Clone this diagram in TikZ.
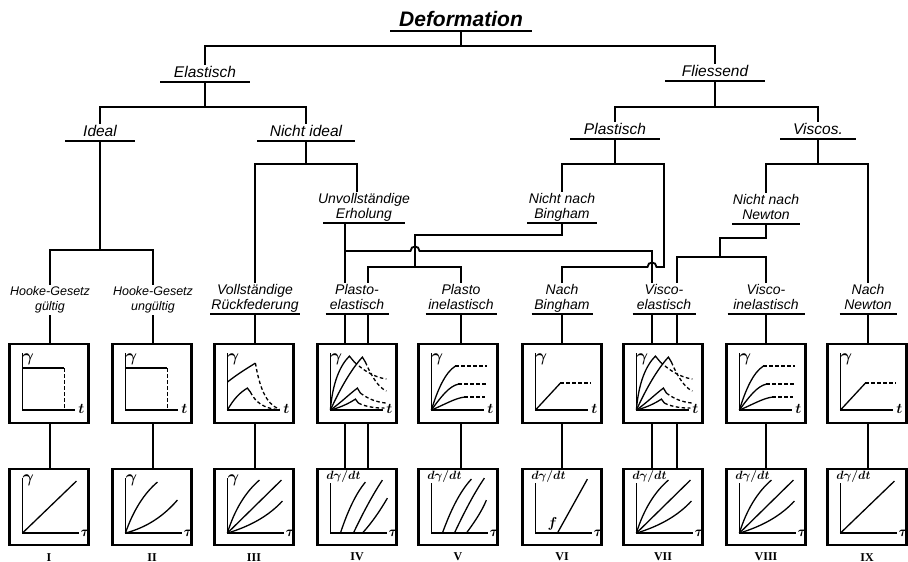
\documentclass[tikz,border=0pt]{standalone}
\usepackage{fontspec}
\setmainfont{Liberation Sans}
\newfontfamily\numfont{Liberation Serif}
\begin{document}
\begin{tikzpicture}[x=1pt, y=-1pt,
  conn/.style={line width=1.8pt},
  lbl/.style={font=\itshape\fontsize{14}{15}\selectfont, align=center,
              inner xsep=0pt, inner ysep=1pt, text depth=3.5pt, anchor=south},
  lvl/.style={font=\itshape\fontsize{15.5}{16}\selectfont},
  ttl/.style={font=\bfseries\itshape\fontsize{21}{21}\selectfont},
  hk/.style={font=\itshape\fontsize{12.5}{15}\selectfont},
  ul/.style={append after command={([xshift=-#1]\tikzlastnode.south)
             edge[line width=1.8pt] ([xshift=#1]\tikzlastnode.south)}},
  gbox/.style={draw, line width=2.2pt, minimum width=79pt, minimum height=79pt, inner sep=0pt},
  gboxb/.style={gbox, minimum height=76pt},
  ax/.style={line width=1.6pt},
  crv/.style={line width=1.3pt},
  dsh/.style={dash pattern=on 3.5pt off 2.5pt},
  gl/.style={font=\boldmath\fontsize{19}{19}\selectfont, inner sep=0pt},
  axl/.style={font=\boldmath\fontsize{15}{15}\selectfont, inner sep=0pt},
  rate/.style={font=\boldmath\fontsize{12}{12}\selectfont, inner sep=0pt},
  num/.style={font=\numfont\bfseries\fontsize{12}{12}\selectfont, inner sep=0pt},
  % axes of the strain-time diagrams
  axrow/.pic={\begin{scope}[y=1pt]
    \draw[ax] (14,71) -- (14,14) -- (67,14);
    \node[gl] (g) at (20,65) {$\gamma$};
    \node[axl] (t) at (73,15) {$t$};
  \end{scope}},
  % axes of the flow curves
  axgam/.pic={\begin{scope}[y=1pt]
    \draw[ax] (14,68) -- (14,13) -- (71,13);
    \node[gl] (g) at (20,66) {$\gamma$};
    \node[axl] (t) at (77,13) {$\tau$};
  \end{scope}},
  axrate/.pic={\begin{scope}[y=1pt]
    \draw[ax] (14,63) -- (14,13) -- (71,13);
    \node[rate] (g) at (27,70) {$d\gamma/dt$};
    \node[axl] (t) at (77,13) {$\tau$};
  \end{scope}},
  stepplot/.pic={\begin{scope}[y=1pt]
    \draw[crv] (14,56) -- (56,56);
    \draw[crv,dsh] (56,56) -- (56,14);
  \end{scope}},
  relaxplot/.pic={\begin{scope}[y=1pt]
    \draw[crv] (14,42) .. controls (24,50) and (34,56) .. (42,61);
    \draw[crv,dsh] (42,61) .. controls (46,38) and (52,20) .. (66,15);
    \draw[crv] (14,14) .. controls (20,25) and (27,32) .. (34,36) -- (37,32);
    \draw[crv,dsh] (37,32) .. controls (42,22) and (50,16) .. (64,14.5);
  \end{scope}},
  peplot/.pic={\begin{scope}[y=1pt]
    \draw[crv] (14,14) .. controls (16,40) and (23,58) .. (33,68) -- (38,62);
    \draw[crv,dsh] (38,62) .. controls (48,53) and (58,47) .. (70,45);
    \draw[crv] (14,14) .. controls (24,36) and (35,55) .. (46,67) -- (49,62);
    \draw[crv,dsh] (49,62) .. controls (56,46) and (62,37) .. (70,33);
    \draw[crv] (14,14) .. controls (25,22) and (33,30) .. (41,36) -- (44,31);
    \draw[crv,dsh] (44,31) .. controls (52,25) and (60,22) .. (70,21);
    \draw[crv] (14,14) .. controls (25,17) and (33,21) .. (39,25) -- (42,21);
    \draw[crv,dsh] (42,21) .. controls (50,17) and (60,16) .. (68,16);
  \end{scope}},
  piplot/.pic={\begin{scope}[y=1pt]
    \draw[crv] (14,14) .. controls (20,34) and (28,52) .. (38,58);
    \draw[crv,dsh] (38,58) -- (70,58);
    \draw[crv] (14,14) .. controls (24,28) and (32,38) .. (41,40);
    \draw[crv,dsh] (41,40) -- (70,40);
    \draw[crv] (14,14) .. controls (28,20) and (38,26) .. (47,27);
    \draw[crv,dsh] (47,27) -- (68,27);
  \end{scope}},
  binghamplot/.pic={\begin{scope}[y=1pt]
    \draw[crv] (14,14) -- (39,41);
    \draw[crv,dsh] (39,41) -- (70,41);
  \end{scope}},
  linplot/.pic={\begin{scope}[y=1pt]
    \draw[crv] (14,13) -- (68,65);
  \end{scope}},
  twoplot/.pic={\begin{scope}[y=1pt]
    \draw[crv] (14,13) .. controls (22,36) and (33,53) .. (46,64);
    \draw[crv] (14,13) .. controls (36,19) and (52,30) .. (66,46);
  \end{scope}},
  threeplot/.pic={\begin{scope}[y=1pt]
    \draw[crv] (14,13) .. controls (21,36) and (32,54) .. (46,66);
    \draw[crv] (14,13) -- (68,66);
    \draw[crv] (14,13) .. controls (37,20) and (55,30) .. (69,45);
  \end{scope}},
  yieldplot/.pic={\begin{scope}[y=1pt]
    \draw[crv] (24,13) .. controls (31,34) and (39,52) .. (49,64);
    \draw[crv] (37,13) .. controls (46,32) and (56,51) .. (66,66);
    \draw[crv] (46,13) .. controls (56,24) and (64,36) .. (71,48);
  \end{scope}},
  yieldplotb/.pic={\begin{scope}[y=1pt]
    \draw[crv] (25,13) .. controls (33,35) and (42,54) .. (54,67);
    \draw[crv] (37,13) .. controls (46,32) and (56,52) .. (67,68);
    \draw[crv] (49,13) .. controls (57,24) and (64,34) .. (69,46);
  \end{scope}},
  flowplot/.pic={\begin{scope}[y=1pt]
    \draw[crv] (36,13) -- (66,67);
    \node[axl] (f) at (31,22) {$f$};
  \end{scope}}
]
\useasboundingbox (0,0) rectangle (908,562);

% ---------- classification labels ----------
\node[lbl, ttl, ul=71pt] (def) at (461,31) {Deformation};
\node[lbl, lvl, ul=45pt] (ela) at (205,82) {Elastisch};
\node[lbl, lvl, ul=50pt] (fli) at (715,81) {Fliessend};
\node[lbl, lvl, ul=35pt] (ide) at (100,141) {Ideal};
\node[lbl, lvl, ul=49pt] (nid) at (306,141) {Nicht ideal};
\node[lbl, lvl, ul=45pt] (pla) at (615,139) {Plastisch};
\node[lbl, lvl, ul=38pt] (vis) at (818,139) {Viscos.};
\node[lbl, ul=41pt] (ue) at (364,223) {Unvollständige\\Erholung};
\node[lbl, ul=35pt] (nnb) at (562,223) {Nicht nach\\Bingham};
\node[lbl, ul=34pt] (nnn) at (766,224) {Nicht nach\\Newton};
\node[lbl, hk] (hg) at (50,315) {Hooke-Gesetz\\gültig};
\node[lbl, hk] (hu) at (153,315) {Hooke-Gesetz\\ungültig};
\node[lbl, ul=45pt] (vr) at (255,314) {Vollständige\\Rückfederung};
\node[lbl, ul=31.5pt] (pe) at (357,314) {Plasto-\\elastisch};
\node[lbl, ul=35.5pt] (pi) at (461,314) {Plasto\\inelastisch};
\node[lbl, ul=30.5pt] (nb) at (562,314) {Nach\\Bingham};
\node[lbl, ul=31.5pt] (ve) at (664,314) {Visco-\\elastisch};
\node[lbl, ul=38.5pt] (vi) at (766,314) {Visco-\\inelastisch};
\node[lbl, ul=28.5pt] (nn) at (868,314) {Nach\\Newton};

% ---------- diagram boxes ----------
\foreach \i/\x in {1/49, 2/152, 3/254, 4/357, 5/458, 6/562, 7/663, 8/766, 9/867} {
  \node[gbox] (b\i) at (\x,383.5) {};
  \node[gboxb] (c\i) at (\x,507) {};
}
\node[num] (r1) at ([yshift=-11pt]c1.south) {I};
\node[num] (r2) at ([yshift=-11pt]c2.south) {II};
\node[num] (r3) at ([yshift=-11pt]c3.south) {III};
\node[num] (r4) at ([yshift=-11pt]c4.south) {IV};
\node[num] (r5) at ([yshift=-11pt]c5.south) {V};
\node[num] (r6) at ([yshift=-11pt]c6.south) {VI};
\node[num] (r7) at ([yshift=-11pt]c7.south) {VII};
\node[num] (r8) at ([yshift=-11pt]c8.south) {VIII};
\node[num] (r9) at ([yshift=-11pt]c9.south) {IX};

% strain-time diagrams
\foreach \i in {1,...,9} { \pic (a\i) at (b\i.south west) {axrow}; }
\pic at (b1.south west) {stepplot};
\pic at (b2.south west) {stepplot};
\pic at (b3.south west) {relaxplot};
\pic at (b4.south west) {peplot};
\pic at (b5.south west) {piplot};
\pic at (b6.south west) {binghamplot};
\pic at (b7.south west) {peplot};
\pic at (b8.south west) {piplot};
\pic at (b9.south west) {binghamplot};

% flow curves
\pic (d1) at (c1.south west) {axgam};
\pic (d2) at (c2.south west) {axgam};
\pic (d3) at (c3.south west) {axgam};
\foreach \i in {4,...,9} { \pic (d\i) at (c\i.south west) {axrate}; }
\pic at (c1.south west) {linplot};
\pic at (c2.south west) {twoplot};
\pic at (c3.south west) {threeplot};
\pic at (c4.south west) {yieldplot};
\pic at (c5.south west) {yieldplotb};
\pic (fl) at (c6.south west) {flowplot};
\pic at (c7.south west) {threeplot};
\pic at (c8.south west) {threeplot};
\pic at (c9.south west) {linplot};

% ---------- connector columns ----------
\coordinate (xA) at (345,0);
\coordinate (xB) at (368,0);
\coordinate (xC) at (652,0);
\coordinate (xD) at (677,0);
\coordinate (xE) at (357,0);
\coordinate (xF) at (415,0);
\coordinate (xG) at (664,0);
\coordinate (xH) at (720,0);
\coordinate (hopA) at (xF |- 0,251);
\coordinate (hopB) at (xC |- 0,267);

% ---------- tree connectors ----------
\draw[conn] (def.south) -- (def.south |- 0,46);
\draw[conn] (ela.north) |- (fli.north |- 0,46) -- (fli.north);
\draw[conn] (ela.south) -- (ela.south |- 0,107);
\draw[conn] (ide.north) |- (nid.north |- 0,107) -- (nid.north);
\draw[conn] (fli.south) -- (fli.south |- 0,107);
\draw[conn] (pla.north) |- (vis.north |- 0,107) -- (vis.north);
\draw[conn] (ide.south) -- (ide.south |- 0,250);
\draw[conn] (hg.north) |- (hu.north |- 0,250) -- (hu.north);
\draw[conn] (nid.south) -- (nid.south |- 0,164);
\draw[conn] (vr.north) |- (xE |- 0,164) -- (ue.north -| xE);
\draw[conn] (ue.south -| xA) -- (pe.north -| xA);
\draw[conn] (xA |- hopA) -- ([xshift=-4.5pt]hopA)
  .. controls +(0,-6) and +(0,-6) .. ([xshift=4.5pt]hopA) -| (ve.north -| xC);
\draw[conn] (pla.south) -- (pla.south |- 0,164);
\draw[conn] (nnb.north) |- (xG |- 0,164) -- (xG |- hopB) -- ([xshift=4.5pt]hopB)
  .. controls +(0,-6) and +(0,-6) .. ([xshift=-4.5pt]hopB) -| (nb.north);
\draw[conn] (nnb.south) |- (xF |- 0,235) -- (xF |- hopB);
\draw[conn] (pe.north -| xB) |- (pi.north |- hopB) -- (pi.north);
\draw[conn] (vis.south) -- (vis.south |- 0,164);
\draw[conn] (nnn.north) |- (nn.north |- 0,164) -- (nn.north);
\draw[conn] (nnn.south) |- (xH |- 0,238) -- (xH |- 0,257);
\draw[conn] (ve.north -| xD) |- (vi.north |- 0,257) -- (vi.north);

% ---------- labels to diagrams ----------
\draw[conn] (hg.south) -- (hg.south |- b1.north);
\draw[conn] (hu.south) -- (hu.south |- b2.north);
\draw[conn] (vr.south) -- (vr.south |- b3.north);
\draw[conn] (pe.south -| xA) -- (b4.north -| xA);
\draw[conn] (pe.south -| xB) -- (b4.north -| xB);
\draw[conn] (pi.south) -- (pi.south |- b5.north);
\draw[conn] (nb.south) -- (nb.south |- b6.north);
\draw[conn] (ve.south -| xC) -- (b7.north -| xC);
\draw[conn] (ve.south -| xD) -- (b7.north -| xD);
\draw[conn] (vi.south) -- (vi.south |- b8.north);
\draw[conn] (nn.south) -- (nn.south |- b9.north);

% ---------- strain-time to flow curves ----------
\draw[conn] (b1.south -| hg.south) -- (c1.north -| hg.south);
\draw[conn] (b2.south -| hu.south) -- (c2.north -| hu.south);
\draw[conn] (b3.south -| vr.south) -- (c3.north -| vr.south);
\draw[conn] (b4.south -| xA) -- (c4.north -| xA);
\draw[conn] (b4.south -| xB) -- (c4.north -| xB);
\draw[conn] (b5.south -| pi.south) -- (c5.north -| pi.south);
\draw[conn] (b6.south -| nb.south) -- (c6.north -| nb.south);
\draw[conn] (b7.south -| xC) -- (c7.north -| xC);
\draw[conn] (b7.south -| xD) -- (c7.north -| xD);
\draw[conn] (b8.south -| vi.south) -- (c8.north -| vi.south);
\draw[conn] (b9.south -| nn.south) -- (c9.north -| nn.south);
\end{tikzpicture}
\end{document}
